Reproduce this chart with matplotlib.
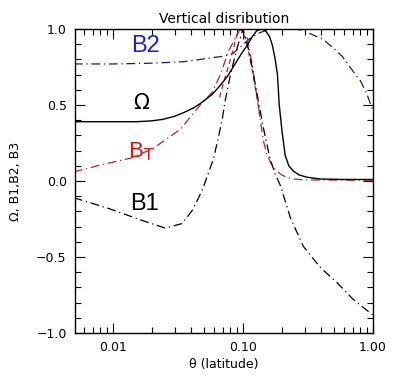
import matplotlib
matplotlib.use("Agg")
import matplotlib.pyplot as plt
from matplotlib.ticker import FixedLocator, MultipleLocator, NullFormatter, FixedFormatter, LogLocator

# ---- data ----
omega_x = [0.005, 0.01, 0.015, 0.0195, 0.024, 0.0296, 0.035, 0.0415, 0.047, 0.058, 0.067,
           0.076, 0.084, 0.096, 0.108, 0.118, 0.128, 0.14, 0.15, 0.16, 0.168, 0.176, 0.184,
           0.19, 0.2, 0.211, 0.225, 0.244, 0.27, 0.31, 0.394, 0.6, 1.0]
omega_y = [0.39, 0.39, 0.39, 0.395, 0.405, 0.425, 0.45, 0.48, 0.51, 0.57, 0.63,
           0.69, 0.75, 0.83, 0.895, 0.95, 0.99, 1.0, 0.985, 0.95, 0.895, 0.81, 0.70,
           0.50, 0.32, 0.17, 0.10, 0.065, 0.04, 0.025, 0.013, 0.01, 0.01]

b2_x = [0.005, 0.01, 0.02, 0.035, 0.047, 0.056, 0.07, 0.084, 0.11, 0.13, 0.16, 0.2,
        0.25, 0.291, 0.415, 0.495, 0.58, 0.69, 0.80, 0.90, 1.0]
b2_y = [0.77, 0.77, 0.775, 0.785, 0.80, 0.81, 0.82, 0.84, 0.93, 0.97, 1.0, 1.0,
        1.0, 0.99, 0.93, 0.875, 0.82, 0.73, 0.66, 0.57, 0.46]

bt_x = [0.005, 0.008, 0.0136, 0.02, 0.033, 0.041, 0.047, 0.058, 0.067, 0.077, 0.087,
        0.095, 0.108, 0.118, 0.124, 0.131, 0.136, 0.143, 0.152, 0.162, 0.175, 0.194,
        0.215, 0.244, 0.3, 1.0]
bt_y = [0.06, 0.105, 0.15, 0.21, 0.34, 0.44, 0.50, 0.585, 0.70, 0.85, 0.94,
        1.0, 0.94, 0.76, 0.63, 0.50, 0.40, 0.27, 0.18, 0.125, 0.08, 0.045,
        0.025, 0.013, 0.007, 0.005]

b3_x = [0.066, 0.071, 0.077, 0.083, 0.091, 0.097, 0.105, 0.115, 0.125, 0.135]
b3_y = [0.55, 0.65, 0.75, 0.85, 0.98, 1.0, 0.93, 0.78, 0.60, 0.42]

b1_x = [0.005, 0.0092, 0.0168, 0.0252, 0.034, 0.041, 0.0486, 0.054, 0.059, 0.064, 0.069,
        0.073, 0.080, 0.090, 0.100, 0.108, 0.118, 0.131, 0.145, 0.162, 0.178, 0.194,
        0.231, 0.291, 0.394, 0.531, 0.706, 0.99]
b1_y = [-0.11, -0.18, -0.26, -0.31, -0.28, -0.19, -0.06, 0.05, 0.14, 0.27, 0.40,
        0.53, 0.70, 0.875, 1.0, 0.90, 0.74, 0.53, 0.33, 0.14, 0.04, -0.03,
        -0.24, -0.43, -0.57, -0.67, -0.78, -0.88]

x_ticks = [0.01, 0.1, 1.0]
x_ticklabels = ["0.01", "0.10", "1.00"]
y_ticks = [-1.0, -0.5, 0.0, 0.5, 1.0]
y_ticklabels = ["\u22121.0", "\u22120.5", "0.0", "0.5", "1.0"]

plt.rcParams['font.family'] = ['DejaVu Sans']

fig = plt.figure(figsize=(4.09, 3.82), dpi=100)
ax = fig.add_axes([0.1834, 0.1283, 0.7286, 0.7958])

dashdot = (0, (7, 3, 1, 3))
ax.plot(b2_x, b2_y, color="#1a1a80", lw=0.9, linestyle=dashdot)
ax.plot(bt_x, bt_y, color="#b02828", lw=0.9, linestyle=dashdot)
ax.plot(b3_x, b3_y, color="#b02828", lw=0.9, linestyle=(0, (4, 3)))
ax.plot(b1_x, b1_y, color="black", lw=0.9, linestyle=dashdot)
ax.plot(omega_x, omega_y, color="black", lw=1.0, linestyle="-")

ax.set_xscale("log")
ax.set_xlim(0.0051, 1.0)
ax.set_ylim(-1.0, 1.0)

ax.xaxis.set_major_locator(FixedLocator(x_ticks))
ax.xaxis.set_major_formatter(FixedFormatter(x_ticklabels))
ax.xaxis.set_minor_locator(LogLocator(base=10, subs=range(2, 10)))
ax.xaxis.set_minor_formatter(NullFormatter())
ax.yaxis.set_major_locator(FixedLocator(y_ticks))
ax.yaxis.set_major_formatter(FixedFormatter(y_ticklabels))
ax.yaxis.set_minor_locator(MultipleLocator(0.1))

ax.tick_params(which="both", direction="in", top=True, right=True, labelsize=9)
ax.tick_params(which="major", length=7, width=0.8, pad=6)
ax.tick_params(which="minor", length=4, width=0.8)
for s in ax.spines.values():
    s.set_linewidth(1.0)

ax.set_title("Vertical disribution", fontsize=10, pad=4)
ax.set_xlabel("\u03b8 (latitude)", fontsize=9, labelpad=3)
ax.set_ylabel("\u03a9, B1,B2, B3", fontsize=9, labelpad=10)

ax.text(0.0177, 0.89, "B2", color="#2020d0", fontsize=17, ha="center", va="center",
        family="Liberation Sans")
ax.text(0.0165, 0.51, "\u03a9", color="black", fontsize=15, ha="center", va="center")
ax.text(0.0165, 0.19, r"B$_\mathsf{T}$", color="#e01010", fontsize=16, ha="center", va="center",
        family="Liberation Sans")
ax.text(0.0175, -0.15, "B1", color="black", fontsize=17, ha="center", va="center",
        family="Liberation Sans")

fig.savefig("out.png", dpi=100)
